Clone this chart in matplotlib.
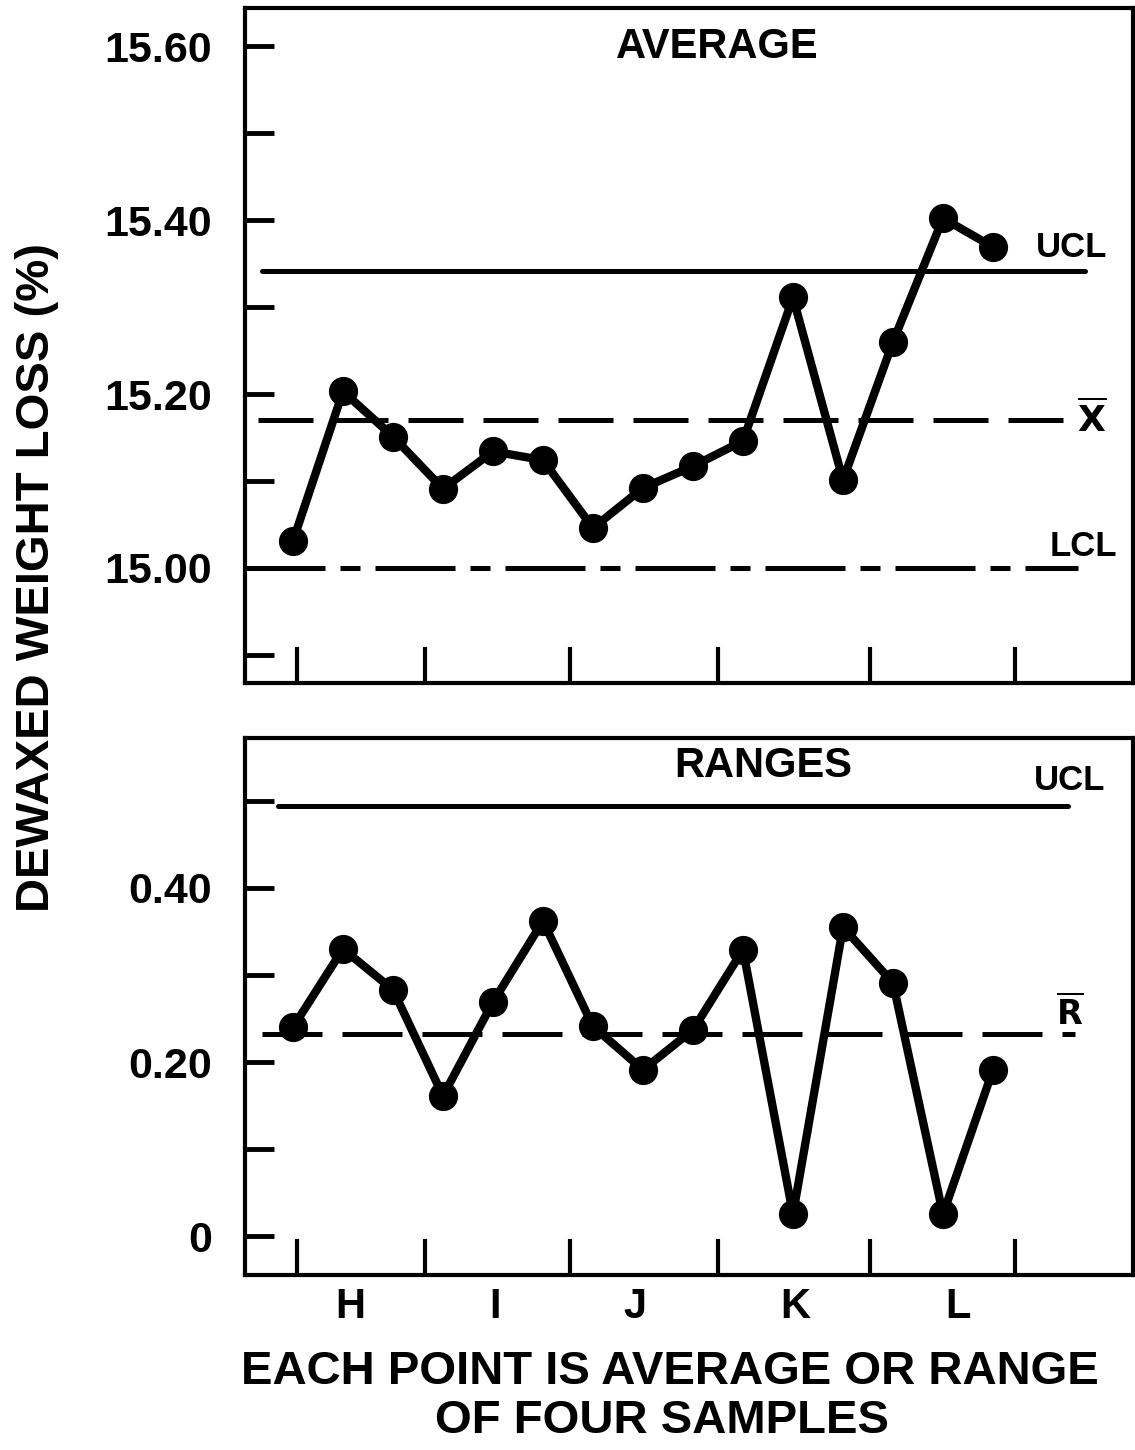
import numpy as np
import matplotlib
matplotlib.use("Agg")
import matplotlib.pyplot as plt
from matplotlib.ticker import FixedLocator, NullFormatter

# sample groups, 15 subgroups of four samples each
sample_no = np.arange(1, 16)
averages = [15.031, 15.203, 15.151, 15.091, 15.134, 15.124, 15.046, 15.092,
            15.117, 15.146, 15.311, 15.101, 15.260, 15.402, 15.369]
ranges = [0.240, 0.330, 0.283, 0.161, 0.269, 0.362, 0.241, 0.191,
          0.237, 0.329, 0.025, 0.355, 0.291, 0.025, 0.191]

avg_ucl, avg_center, avg_lcl = 15.341, 15.170, 15.00
rng_ucl, rng_center = 0.494, 0.232

group_labels = ["H", "I", "J", "K", "L"]
group_label_pos = [2.14, 5.04, 7.84, 11.04, 14.3]
group_ticks = [1.08, 3.64, 6.54, 9.5, 12.54, 15.44]

avg_major = [15.00, 15.20, 15.40, 15.60]
avg_minor = [14.90, 15.10, 15.30, 15.50]
rng_major = [0.0, 0.20, 0.40]
rng_minor = [0.10, 0.30, 0.50]

plt.rcParams['font.family'] = ['Liberation Sans', 'DejaVu Sans']
plt.rcParams['font.weight'] = 'bold'

W, H = 1135, 1450
fig = plt.figure(figsize=(W / 100, H / 100), dpi=100)

def px_axes(left, top, right, bottom):
    return fig.add_axes([left / W, 1 - bottom / H, (right - left) / W, (bottom - top) / H])

ax1 = px_axes(245, 8, 1133, 683)
ax2 = px_axes(245, 738, 1133, 1275)

LW = 3.6
for ax in (ax1, ax2):
    for s in ax.spines.values():
        s.set_linewidth(3)
    ax.set_xlim(0.04, 17.8)
    ax.xaxis.set_major_locator(FixedLocator(group_ticks))
    ax.xaxis.set_major_formatter(NullFormatter())
    ax.tick_params(axis='x', direction='in', length=26, width=3, bottom=True, top=False)
    ax.tick_params(axis='y', which='both', direction='in', length=21, width=3.5, pad=24,
                   labelsize=31)
    ax.yaxis.set_minor_formatter(NullFormatter())

# top: averages
ax1.set_ylim(14.8678, 15.6437)
ax1.yaxis.set_major_locator(FixedLocator(avg_major))
ax1.yaxis.set_minor_locator(FixedLocator(avg_minor))
ax1.set_yticklabels(["15.00", "15.20", "15.40", "15.60"])
ax1.plot([0.38, 16.84], [avg_ucl] * 2, color='black', lw=LW, solid_capstyle='round')
ax1.plot([0.3, 16.58], [avg_center] * 2, color='black', lw=LW, linestyle=(0, (11, 4)))
ax1.plot([0.04, 16.7], [avg_lcl] * 2, color='black', lw=LW, linestyle=(0, (16, 3, 4, 3)))
ax1.plot(sample_no, averages, color='black', lw=6, marker='o', markersize=20)
ax1.text(9.48, 15.599, "AVERAGE", ha='center', va='center', fontsize=30)
ax1.text(16.58, 15.368, "UCL", ha='center', va='center', fontsize=25)
ax1.text(16.98, 15.17, r"$\mathbf{\overline{X}}$", ha='center', va='center', fontsize=26)
ax1.text(16.8, 15.025, "LCL", ha='center', va='center', fontsize=25)

# bottom: ranges
ax2.set_ylim(-0.0448, 0.5724)
ax2.yaxis.set_major_locator(FixedLocator(rng_major))
ax2.yaxis.set_minor_locator(FixedLocator(rng_minor))
ax2.set_yticklabels(["0", "0.20", "0.40"])
ax2.plot([0.7, 16.5], [rng_ucl] * 2, color='black', lw=LW, solid_capstyle='round')
ax2.plot([0.38, 16.64], [rng_center] * 2, color='black', lw=LW, linestyle=(0, (12, 4)))
ax2.plot(sample_no, ranges, color='black', lw=6, marker='o', markersize=20)
ax2.text(10.4, 0.540, "RANGES", ha='center', va='center', fontsize=30)
ax2.text(16.54, 0.524, "UCL", ha='center', va='center', fontsize=25)
ax2.text(16.54, 0.257, r"$\mathbf{\overline{R}}$", ha='center', va='center', fontsize=24)

for lab, pos in zip(group_labels, group_label_pos):
    ax2.text(pos, -0.082, lab, ha='center', va='center', fontsize=30)

fig.text(37 / W, 1 - 578 / H, "DEWAXED WEIGHT LOSS (%)", rotation=90,
         ha='center', va='center', fontsize=34)
fig.text(670 / W, 1 - 1372 / H, "EACH POINT IS AVERAGE OR RANGE",
         ha='center', va='center', fontsize=34)
fig.text(662 / W, 1 - 1421 / H, "OF FOUR SAMPLES",
         ha='center', va='center', fontsize=34)

fig.savefig("out.png", dpi=100, facecolor='white')
